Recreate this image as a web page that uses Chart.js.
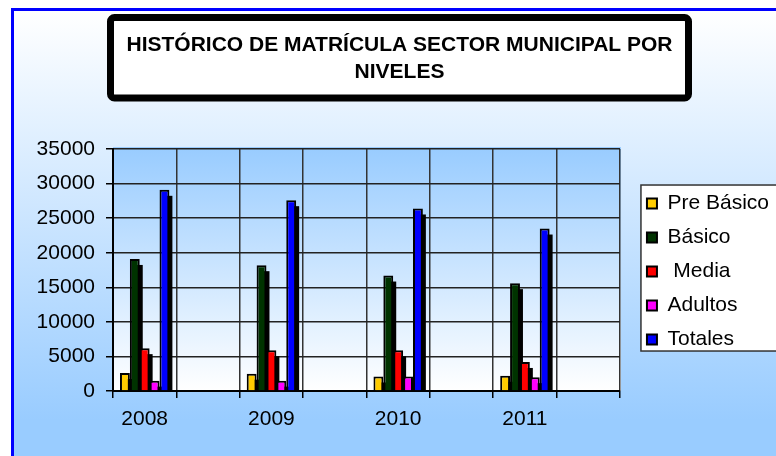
<!DOCTYPE html>
<html>
<head>
<meta charset="utf-8">
<script src="https://cdn.jsdelivr.net/npm/chart.js@4/dist/chart.umd.min.js"></script>
<style>
html, body { margin: 0; padding: 0; background: #fff; }
canvas { display: block; }
</style>
</head>
<body>
<canvas id="matricula-chart" width="776" height="456"></canvas>
<script>
const years = ["2008", "2009", "2010", "2011"];
const preBasico = [2600, 2500, 2100, 2200];
const basico = [19100, 18200, 16700, 15600];
const media = [6200, 5900, 5900, 4200];
const adultos = [1500, 1500, 2100, 2000];
const totales = [29100, 27600, 26400, 23500];
const seriesNames = ["Pre Básico", "Básico", " Media", "Adultos", "Totales"];
const seriesColors = ["#ffcc00", "#003300", "#ff0000", "#ff00ff", "#0000ff"];
const titleLines = ["HISTÓRICO DE MATRÍCULA SECTOR MUNICIPAL POR", "NIVELES"];

// each year is followed by an empty category, as in the original sheet
const labels = years.flatMap((y) => [y, ""]);
const spread = (arr) => arr.flatMap((v) => [v, null]);

Chart.defaults.font.family = "'Liberation Sans', Arial, sans-serif";

const backdrop = {
	id: "backdrop",
	afterLayout(chart) {
		const lg = chart.legend;
		const dx = chart.chartArea.right + 27 - (lg.left + lg.options.labels.padding);
		lg.left += dx;
		lg.right += dx;
		lg.top = chart.chartArea.top + 31;
	},
	beforeDraw(chart) {
		const ctx = chart.ctx;
		const area = chart.chartArea;
		const w = chart.width;
		const h = chart.height;
		ctx.save();
		ctx.fillStyle = "#fff";
		ctx.fillRect(0, 0, w, h);

		const bg = ctx.createLinearGradient(0, 11, 0, 420);
		bg.addColorStop(0, "#ffffff");
		bg.addColorStop(1, "#99ccff");
		ctx.fillStyle = bg;
		ctx.fillRect(14, 11, w - 14, h - 11);

		ctx.fillStyle = "#0000ff";
		ctx.fillRect(11, 8, w - 11, 3);
		ctx.fillRect(11, 8, 3, h - 8);

		// plot area
		const pg = ctx.createLinearGradient(0, area.top, 0, area.bottom);
		pg.addColorStop(0, "#99ccff");
		pg.addColorStop(1, "#ffffff");
		ctx.fillStyle = pg;
		ctx.fillRect(area.left, area.top - 2, area.width + 1, area.height + 2);

		// title frame
		ctx.fillStyle = "#fff";
		ctx.strokeStyle = "#000";
		ctx.lineWidth = 7;
		ctx.beginPath();
		if (ctx.roundRect) ctx.roundRect(110.5, 17.5, 578, 80.5, 4);
		else ctx.rect(110.5, 17.5, 578, 80.5);
		ctx.fill();
		ctx.stroke();

		// legend frame
		const lg = chart.legend;
		ctx.fillStyle = "#fff";
		ctx.strokeStyle = "#333";
		ctx.lineWidth = 1.5;
		ctx.fillRect(lg.left + 7, lg.top + 5, w, 166);
		ctx.strokeRect(lg.left + 7, lg.top + 5, w, 166);
		ctx.restore();
	},
	beforeDatasetsDraw(chart) {
		const ctx = chart.ctx;
		const area = chart.chartArea;
		ctx.save();
		ctx.beginPath();
		ctx.rect(area.left, area.top, area.width, area.height);
		ctx.clip();
		ctx.fillStyle = "#000";
		chart.data.datasets.forEach((ds, i) => {
			chart.getDatasetMeta(i).data.forEach((bar) => {
				const p = bar.getProps(["x", "y", "base", "width"], true);
				if (!(p.base - p.y > 6)) return;
				ctx.fillRect(p.x - p.width / 2 + 3, p.y + 6, p.width, p.base - p.y - 6);
			});
		});
		ctx.restore();
	},
};

const seriesData = [preBasico, basico, media, adultos, totales];

const data = {
	labels: labels,
	datasets: seriesData.map((values, i) => ({
		label: seriesNames[i],
		data: spread(values),
		backgroundColor: seriesColors[i],
		borderColor: "#000",
		borderWidth: 2,
		categoryPercentage: 0.78,
		barPercentage: 1,
	})),
};

const config = {
	type: "bar",
	data: data,
	plugins: [backdrop],
	options: {
		responsive: false,
		animation: false,
		devicePixelRatio: 1,
		events: [],
		layout: { padding: { left: 34, right: 11, top: 0, bottom: 0 } },
		plugins: {
			title: {
				display: true,
				text: titleLines,
				color: "#000",
				font: { size: 21, weight: "bold", lineHeight: 1.31 },
				padding: { top: 31, bottom: 63 },
			},
			legend: {
				position: "right",
				align: "start",
				labels: {
					boxWidth: 10,
					boxHeight: 10,
					padding: 13,
					color: "#000",
					font: { size: 21 },
				},
			},
			tooltip: { enabled: false },
		},
		scales: {
			x: {
				offset: true,
				grid: { offset: true, color: "#333", lineWidth: 1.5, tickLength: 7, tickColor: "#000" },
				border: { color: "#000", width: 2 },
				ticks: { color: "#000", font: { size: 21 }, padding: 9, autoSkip: false, maxRotation: 0 },
				afterFit(scale) {
					scale.height = 65;
				},
			},
			y: {
				min: 0,
				max: 35000,
				ticks: {
					stepSize: 5000,
					color: "#000",
					font: { size: 21 },
					padding: 11,
					callback: (v) => String(v),
				},
				grid: { color: "#222", lineWidth: 1.5, tickLength: 7, tickColor: "#000" },
				border: { color: "#000", width: 2 },
				afterFit(scale) {
					scale.width = 79;
				},
			},
		},
	},
};

new Chart(document.getElementById("matricula-chart"), config);
</script>
</body>
</html>
